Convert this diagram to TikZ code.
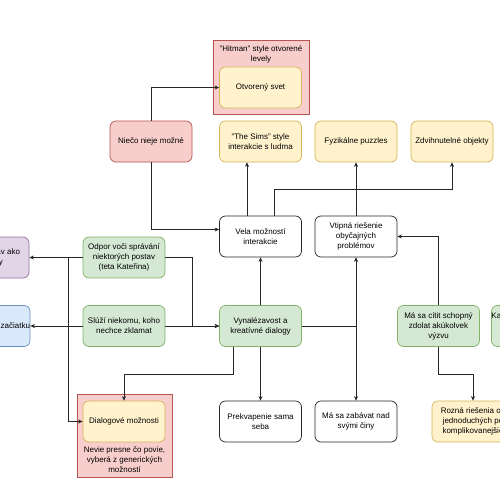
\documentclass[tikz,border=0pt]{standalone}
\usepackage{fontspec}
\setmainfont{Liberation Sans}
\usetikzlibrary{arrows.meta}
\definecolor{yfill}{HTML}{FFF2CC}\definecolor{ydraw}{HTML}{D6B656}
\definecolor{rfill}{HTML}{F8CECC}\definecolor{rdraw}{HTML}{B85450}
\definecolor{gfill}{HTML}{D5E8D4}\definecolor{gdraw}{HTML}{82B366}
\definecolor{bfill}{HTML}{DAE8FC}\definecolor{bdraw}{HTML}{6C8EBF}
\definecolor{pfill}{HTML}{E1D5E7}\definecolor{pdraw}{HTML}{9673A6}
\begin{document}
\begin{tikzpicture}[x=1pt,y=-1pt,
  txt/.style={font=\fontsize{8}{10}\selectfont, align=center},
  box/.style={txt, rounded corners=6pt, line width=0.7pt, minimum width=82pt, minimum height=41pt, inner sep=0pt},
  ybox/.style={box, fill=yfill, draw=ydraw},
  rbox/.style={box, fill=rfill, draw=rdraw},
  gbox/.style={box, fill=gfill, draw=gdraw},
  bbox/.style={box, fill=bfill, draw=bdraw},
  pbox/.style={box, fill=pfill, draw=pdraw},
  wbox/.style={box, fill=white, draw=black!85},
  cont/.style={fill=rfill, draw=rdraw, line width=0.7pt, inner sep=0pt},
  lbl/.style={txt, inner sep=0pt},
  arr/.style={line width=0.7pt, draw=black!85, -{Stealth[length=4.5pt,width=4pt]}}]
\useasboundingbox (0,0) rectangle (500,500);
\clip (0,0) rectangle (500,500);
\fill[white] (0,0) rectangle (500,500);

% containers
\node[cont, minimum width=96pt, minimum height=74pt] (hitman) at (261,77) {};
\node[lbl] (hitlbl) at (261,54) {"Hitman" style otvorené\\levely};
\node[cont, minimum width=95pt, minimum height=83pt] (dcont) at (124.5,435.5) {};
\node[lbl] (dlbl) at (124.5,459.5) {Nevie presne čo povie,\\vyberá z generických\\možností};

% nodes
\node[ybox] (otv) at (260.5,87.5) {Otvorený svet};
\node[rbox] (niec) at (151,141.5) {Niečo nieje možné};
\node[ybox] (sims) at (260.5,141.5) {"The Sims" style\\interakcie s ludma};
\node[ybox] (fyz) at (356,141.5) {Fyzikálne puzzles};
\node[ybox] (zdv) at (452,141.5) {Zdvihnutelné objekty};
\node[wbox] (vela) at (260.5,236.5) {Vela možností\\interakcie};
\node[wbox] (vtip) at (356,236.5) {Vtipná riešenie\\obyčajných\\problémov};
\node[gbox] (odp) at (124,257.5) {Odpor voči správání\\niektorých postav\\(teta Kateřina)};
\node[pbox] (purp) at (-12,257.5) {Vníma postav ako\\časti hry};
\node[bbox] (blue) at (-12,326) {Odomknuté od začiatku};
\node[gbox] (sluz) at (124,326) {Slúží niekomu, koho\\nechce zklamat};
\node[gbox] (vyn) at (260.5,326) {Vynalézavost a\\kreatívné dialogy};
\node[gbox] (cit) at (438.5,326) {Má sa cítit schopný\\zdolat akúkolvek\\výzvu};
\node[gbox] (kr) at (533,326) {Každý problém má viac\\spôsobov\\riešenia};
\node[wbox] (prek) at (260.5,421.5) {Prekvapenie sama\\seba};
\node[wbox] (zab) at (356,421.5) {Má sa zabávat nad\\svými činy};
\node[ybox] (roz) at (473,421.5) {Rozná riešenia od\\jednoduchých po\\komplikovanejšie};
\node[ybox] (dial) at (124,421.5) {Dialogové možnosti};

% connectors
\draw[arr] (niec.north) |- (otv.west);
\draw[arr] (niec.south) |- ([yshift=7pt]vela.west);
\draw[arr] ([xshift=-13.5pt]vela.north) -- ([xshift=-13.5pt]sims.south);
\draw[arr] ([xshift=13.5pt]vela.north) -- ++(0,-26) -| (zdv.south);
\draw[arr] (vtip.north) -- (fyz.south);
\draw[arr] (vyn.north) -- (vela.south);
\draw[arr] (vyn.east) -| (vtip.south);
\draw[arr] (vyn.east) -| (zab.north);
\draw[arr] ([xshift=-27.5pt]vyn.south) -- ++(0,27) -| (dial.north);
\draw[arr] (vyn.south) -- (prek.north);
\draw[arr] (sluz.east) -- (vyn.west);
\draw[arr] (odp.east) -- ++(27,0) |- (vyn.west);
\draw[arr] (sluz.west) -- (blue.east);
\draw[arr] (odp.west) -- (purp.east);
\draw[arr] (odp.west) -- ++(-14,0) |- (dial.west);
\draw[arr] (cit.north) |- (vtip.east);
\draw[arr] (cit.south) -- ++(0,27) -| (roz.north);
\end{tikzpicture}
\end{document}
